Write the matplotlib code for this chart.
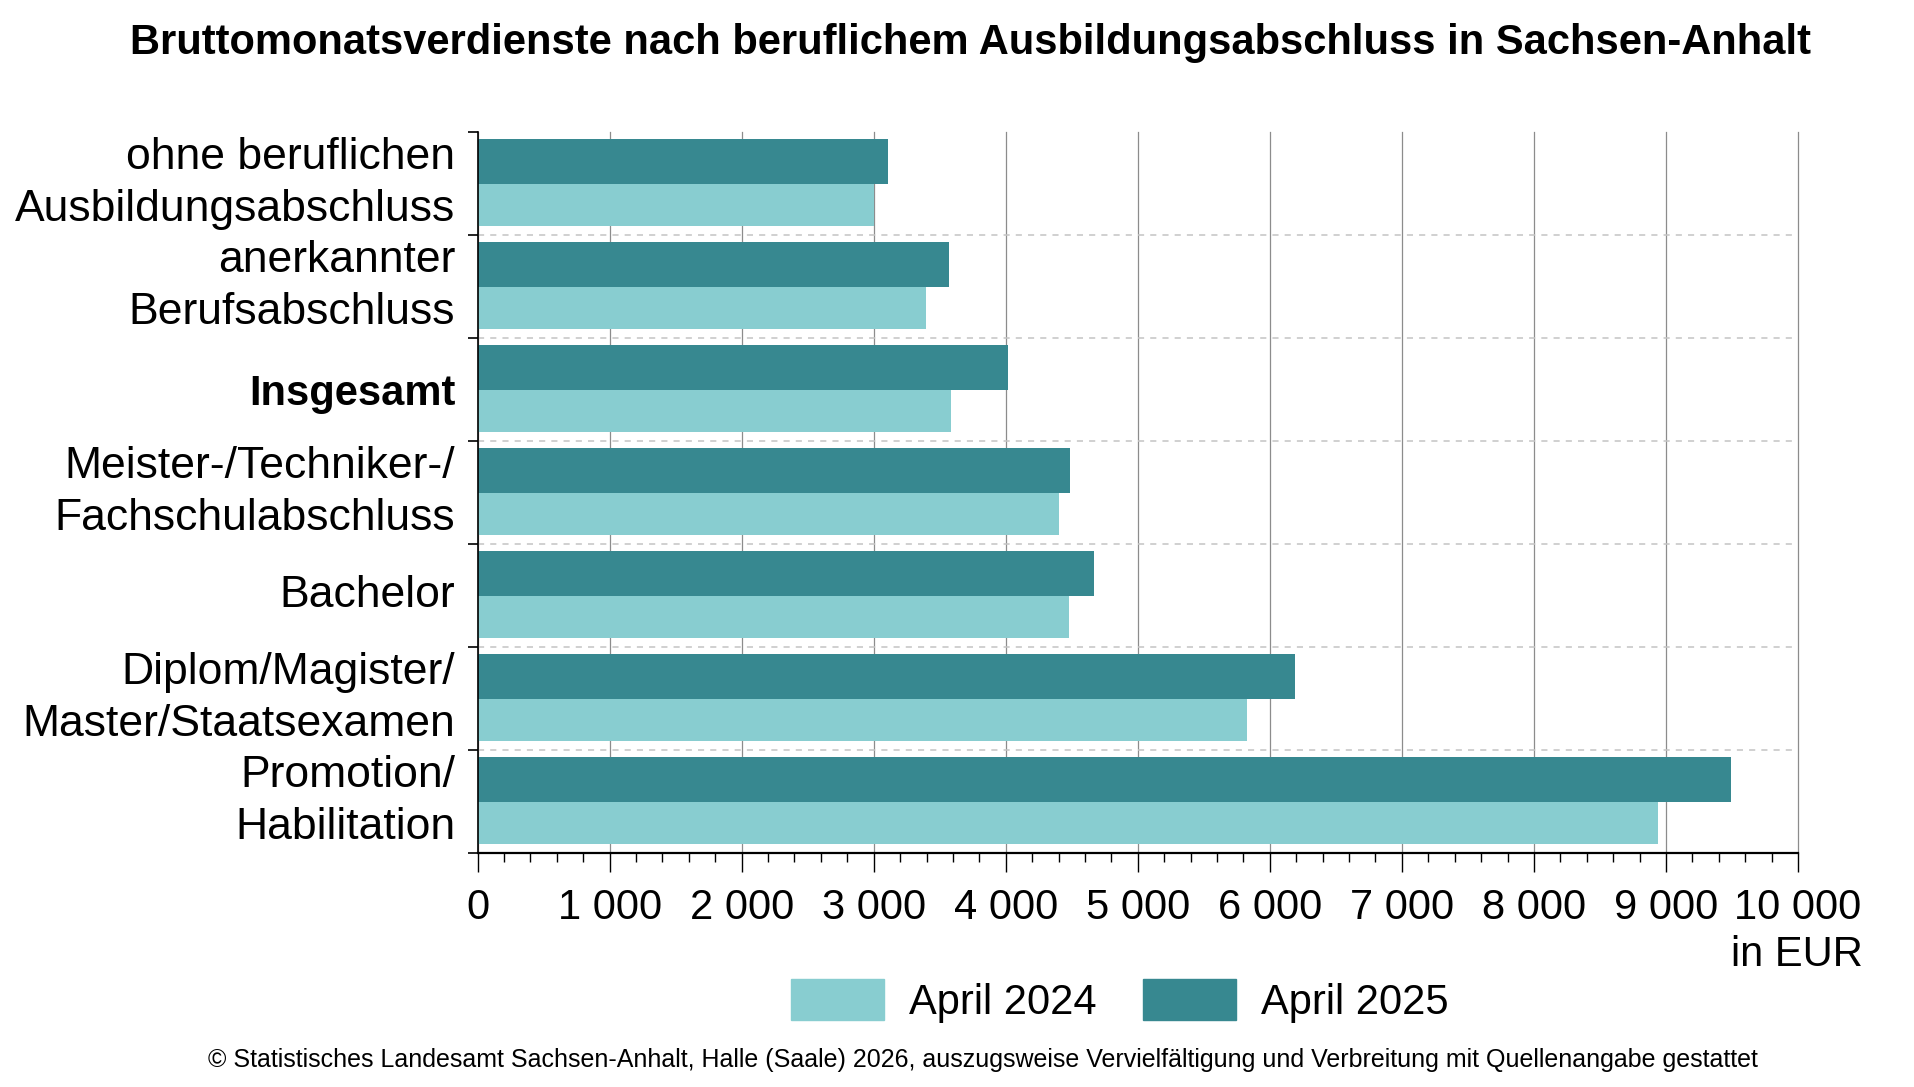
import numpy as np
import matplotlib
matplotlib.use("Agg")
import matplotlib.pyplot as plt
from matplotlib.patches import Patch
from matplotlib.ticker import FuncFormatter, MultipleLocator

plt.rcParams['font.family'] = ['Liberation Sans', 'DejaVu Sans']

# data (EUR per month)
categories = ["ohne beruflichen\nAusbildungsabschluss",
              "anerkannter\nBerufsabschluss",
              "Insgesamt",
              "Meister-/Techniker-/\nFachschulabschluss",
              "Bachelor",
              "Diplom/Magister/\nMaster/Staatsexamen",
              "Promotion/\nHabilitation"]
april_2024 = [3000, 3397, 3586, 4405, 4481, 5824, 8942]
april_2025 = [3107, 3568, 4014, 4489, 4665, 6193, 9496]
series_labels = ["April 2024", "April 2025"]

light = "#88cdd0"
dark = "#378890"

fig = plt.figure(figsize=(19.14, 10.87), dpi=100)
ax = fig.add_axes([0.2495, 0.2153, 0.6899, 0.6633])

pos = np.arange(len(categories))
# dark bar on top, light bar below inside each slot
ax.barh(pos + 0.29, april_2025, height=0.437, color=dark, zorder=3)
ax.barh(pos + 0.712, april_2024, height=0.408, color=light, zorder=3)

ax.set_xlim(0, 10000)
ax.set_ylim(len(categories), 0)

# x axis
ax.xaxis.set_major_locator(MultipleLocator(1000))
ax.xaxis.set_minor_locator(MultipleLocator(200))
ax.xaxis.set_major_formatter(FuncFormatter(lambda v, p: "{:,.0f}".format(v).replace(",", " ")))
ax.tick_params(axis='x', which='major', length=13.7, width=1, direction='out',
               labelsize=30, pad=11.5, color='black')
ax.tick_params(axis='x', which='minor', length=6.5, width=1, direction='out', color='black')

# y axis: ticks on slot borders, labels in slot centres
ax.set_yticks(np.arange(len(categories) + 1))
ax.set_yticklabels([])
ax.set_yticks(pos + 0.5, minor=True)
ax.set_yticklabels(categories, minor=True, fontsize=32, ha='right', va='center')
ax.tick_params(axis='y', which='major', length=7.5, width=1.2, direction='out', color='black')
ax.tick_params(axis='y', which='minor', length=0, pad=16)
for lab in ax.get_yticklabels(minor=True):
    lab.set_linespacing(1.37)
    if lab.get_text() == "Insgesamt":
        lab.set_fontweight('bold')
        lab.set_fontsize(30)
        lab.set_verticalalignment('center_baseline')

ax.grid(axis='x', which='major', color='#8c8c8c', linewidth=0.9, zorder=0)
ax.grid(axis='y', which='major', color='#c4c4c4', linewidth=1.1, linestyle=(0, (4, 4)), zorder=0)
# no dashed line along the top edge, keep the 10 000 line at the right edge
ax.yaxis.get_gridlines()[0].set_visible(False)
for gl in ax.xaxis.get_gridlines():
    gl.set_clip_on(False)

for side in ['top', 'right']:
    ax.spines[side].set_visible(False)
ax.spines['left'].set_linewidth(1.2)
ax.spines['bottom'].set_linewidth(1.6)
ax.spines['left'].set_zorder(4)
ax.spines['bottom'].set_zorder(4)

fig.text(0.5073, 0.9604, "Bruttomonatsverdienste nach beruflichem Ausbildungsabschluss in Sachsen-Anhalt",
         ha='center', va='center', fontsize=30, fontweight='bold')
fig.text(0.9734, 0.1214, "in EUR", ha='right', va='center', fontsize=30)

handles = [Patch(color=light), Patch(color=dark)]
fig.legend(handles, series_labels, loc='center', bbox_to_anchor=(0.585, 0.079), ncol=2,
           frameon=False, fontsize=30, handlelength=2.23, handleheight=1.13,
           handletextpad=0.6, columnspacing=1.13, borderpad=0)

fig.text(0.5136, 0.0248, "© Statistisches Landesamt Sachsen-Anhalt, Halle (Saale) 2026, auszugsweise "
         "Vervielfältigung und Verbreitung mit Quellenangabe gestattet",
         ha='center', va='center', fontsize=18)

fig.savefig("out.png", dpi=100)
